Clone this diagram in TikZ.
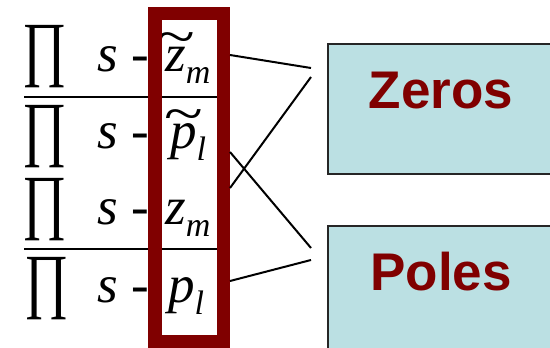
\documentclass[tikz,border=0pt]{standalone}
\usepackage{fontspec}
\setmainfont{Liberation Serif}
\newfontfamily\labelfont{Liberation Sans}
\definecolor{darkmaroon}{RGB}{128,0,0}
\definecolor{paleteal}{RGB}{187,224,227}
\newcommand{\lowidx}[1]{\raisebox{-12pt}{\fontsize{34}{34}\selectfont\itshape #1}}
\newcommand{\wavetop}[1]{\ooalign{\itshape #1\cr\hidewidth\raisebox{17pt}{\scalebox{1.35}[1]{\upshape\textasciitilde}}\hidewidth\cr}}
\tikzset{
  term/.style={inner sep=0pt, anchor=base west, font=\fontsize{53}{53}\selectfont},
  bigprod/.style={inner sep=0pt, font=\fontsize{72}{72}\selectfont},
  groupbox/.style={draw=black!85, line width=2pt, fill=paleteal, minimum width=240pt, minimum height=130pt, anchor=north west},
  grouplabel/.style={font=\labelfont\bfseries\fontsize{53}{53}\selectfont, text=darkmaroon, inner sep=0pt, anchor=base},
  link/.style={line width=2pt, black},
}

\begin{document}
\begin{tikzpicture}[x=1pt, y=-1pt]
    \useasboundingbox (0,0) rectangle (550,348);

    % fraction lines
    \draw[line width=2pt] (24,97) -- (217,97);
    \draw[line width=2pt] (24,249) -- (217,249);

    % product signs
    \node[bigprod] (prodA) at (45,57) {\scalebox{0.75}[1]{∏}};
    \node[bigprod] (prodB) at (45,137) {\scalebox{0.75}[1]{∏}};
    \node[bigprod] (prodC) at (45,210) {\scalebox{0.75}[1]{∏}};
    \node[bigprod] (prodD) at (47,289) {\scalebox{0.75}[1]{∏}};

    % s - terms
    \node[term] (sA) at (97,71) {\textit{s} -};
    \node[term] (sB) at (97,148) {\textit{s} -};
    \node[term] (sC) at (97,224) {\textit{s} -};
    \node[term] (sD) at (97,302) {\textit{s} -};

    % roots
    \node[term] (zt) at (165,71) {\wavetop{z}\lowidx{m}};
    \node[term] (pt) at (170,148) {\wavetop{p}\lowidx{l}};
    \node[term] (zz) at (165,224) {\textit{z}\lowidx{m}};
    \node[term] (pp) at (168,302) {\textit{p}\lowidx{l}};

    % highlight frame
    \node[draw=darkmaroon, line width=13.5pt, minimum width=68.5pt, minimum height=328.5pt, inner sep=0pt] (band) at (189.25,177.75) {};

    % group boxes
    \node[groupbox] (zeros) at (327,43) {};
    \node[groupbox] (poles) at (327,225) {};
    \node[grouplabel] (zerosText) at (441,108) {Zeros};
    \node[grouplabel] (polesText) at (441,290) {Poles};

    % link ends
    \coordinate (zt-r) at (230,55);
    \coordinate (pt-r) at (230,152);
    \coordinate (zz-r) at (230,188);
    \coordinate (pp-r) at (230,281);
    \coordinate (zeros-a) at (311,68);
    \coordinate (zeros-b) at (311,77);
    \coordinate (poles-a) at (311,248);
    \coordinate (poles-b) at (311,260);

    % links
    \draw[link] (zt-r) -- (zeros-a);
    \draw[link] (zz-r) -- (zeros-b);
    \draw[link] (pt-r) -- (poles-a);
    \draw[link] (pp-r) -- (poles-b);
\end{tikzpicture}
\end{document}
